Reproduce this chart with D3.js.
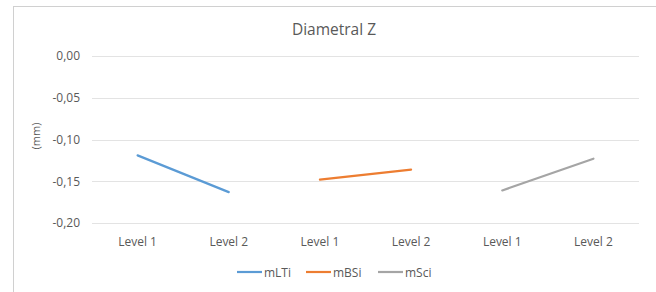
<!DOCTYPE html>
<html>
<head>
<meta charset="utf-8">
<script src="https://cdn.jsdelivr.net/npm/d3@7"></script>
<style>
body { margin: 0; background: #fff; }
svg { font-family: "Open Sans", sans-serif; }
</style>
</head>
<body>
<svg id="chart" width="656" height="292"></svg>
<script>
// categories along the x axis (three groups of two levels)
var categories = ['Level 1', 'Level 2', 'Level 1', 'Level 2', 'Level 1', 'Level 2'];
var seriesNames = ['mLTi', 'mBSi', 'mSci'];
var seriesColors = ['#5B9BD5', '#ED7D31', '#A5A5A5'];
// each series only has values at its own pair of categories
var mLTi = [-0.119, -0.163];
var mBSi = [-0.148, -0.136];
var mSci = [-0.161, -0.123];
var seriesStart = [0, 2, 4];
var yTicks = [0, -0.05, -0.10, -0.15, -0.20];

var svg = d3.select('#chart');
var textColor = '#595959';
var font = '"Open Sans", sans-serif';

// outer frame
svg.append('rect')
    .attr('x', 13.5).attr('y', 6.5)
    .attr('width', 660).attr('height', 300)
    .attr('fill', 'none')
    .attr('stroke', '#D0D0D0');

var x = d3.scaleBand()
    .domain(d3.range(categories.length))
    .range([92, 639]);

var y = d3.scaleLinear()
    .domain([-0.20, 0])
    .range([223, 56]);

// gridlines
svg.append('g')
    .selectAll('line')
    .data(yTicks)
    .join('line')
    .attr('x1', 92).attr('x2', 639)
    .attr('y1', function(d) { return Math.round(y(d)) + 0.5; })
    .attr('y2', function(d) { return Math.round(y(d)) + 0.5; })
    .attr('stroke', '#E3E3E3');

// y axis labels
var yAxis = d3.axisLeft(y)
    .tickValues(yTicks)
    .tickSize(0)
    .tickPadding(0)
    .tickFormat(function(d) { return d3.format('.2f')(d).replace('.', ',').replace('−', '-'); });
var gy = svg.append('g').attr('transform', 'translate(80,0)').call(yAxis);
gy.select('.domain').remove();
gy.selectAll('text').attr('fill', textColor).attr('font-size', 12)
    .attr('font-family', font);

// x axis labels
var xAxis = d3.axisBottom(x)
    .tickSize(0)
    .tickPadding(0)
    .tickFormat(function(i) { return categories[i]; });
var gx = svg.append('g').attr('transform', 'translate(0,237)').call(xAxis);
gx.select('.domain').remove();
gx.selectAll('text').attr('fill', textColor).attr('font-size', 12)
    .attr('font-family', font);

// series lines
var allSeries = [mLTi, mBSi, mSci];
var line = d3.line()
    .x(function(d) { return x(d.i) + x.bandwidth() / 2; })
    .y(function(d) { return y(d.v); });

allSeries.forEach(function(vals, s) {
    var pts = vals.map(function(v, k) { return {i: seriesStart[s] + k, v: v}; });
    svg.append('path')
        .datum(pts)
        .attr('d', line)
        .attr('fill', 'none')
        .attr('stroke', seriesColors[s])
        .attr('stroke-width', 2.2)
        .attr('stroke-linecap', 'round');
});

// title
svg.append('text')
    .attr('x', 334).attr('y', 35)
    .attr('text-anchor', 'middle')
    .attr('fill', textColor)
    .attr('font-size', 15.5)
    .text('Diametral Z');

// y axis title
svg.append('text')
    .attr('transform', 'translate(40,136) rotate(-90)')
    .attr('text-anchor', 'middle')
    .attr('fill', textColor)
    .attr('font-size', 11)
    .text('(mm)');

// legend
var legendX = [237, 306, 378];
var legend = svg.append('g');
seriesNames.forEach(function(name, s) {
    legend.append('line')
        .attr('x1', legendX[s]).attr('x2', legendX[s] + 25)
        .attr('y1', 272).attr('y2', 272)
        .attr('stroke', seriesColors[s])
        .attr('stroke-width', 2.2);
    legend.append('text')
        .attr('x', legendX[s] + 27).attr('y', 276.5)
        .attr('fill', textColor)
        .attr('font-size', 12)
        .text(name);
});
</script>
</body>
</html>
